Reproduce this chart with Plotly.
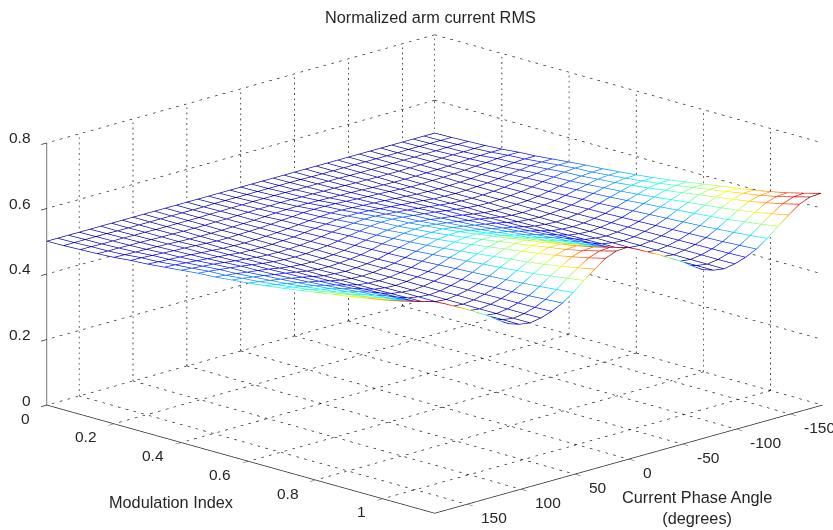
import plotly.graph_objects as go

# Axis samples and ticks
phi_half = [-180,-170,-160,-150,-140,-130,-120,-110,-100,-90,-80,-70,-60,-50,-40,-30,-20,-10,0]
phi_second = [10,20,30,40,50,60,70,80,90,100,110,120,130,140,150,160,170,180]
modulation = [0,0.05,0.10,0.15,0.20,0.25,0.30,0.35,0.40,0.45,0.50,0.55,0.60,0.65,0.70,0.75,0.80,0.85,0.90,0.95,1.00,1.05,1.10,1.15]
phi_ticks = [-150,-100,-50,0,50,100,150]
m_ticks = [0,0.2,0.4,0.6,0.8,1]
z_ticks = [0,0.2,0.4,0.6,0.8]
phi_range = [-180,180]
m_range = [0,1.1547]
z_range = [0,0.8]

# Surface heights (thousandths), one row per modulation value, phi from -180 to 0
# (the picture repeats the same profile from 0 to 180)
z_milli = [
[500]*19,
[501,501,501,501,501,500,500,500,500,500,500,500,500,500,501,501,501,501,501],
[503,503,503,502,502,501,501,500,500,500,500,500,501,501,502,502,502,503,503],
[505,505,504,504,503,502,501,501,500,500,500,501,501,502,503,503,504,504,505],
[508,508,507,506,504,502,501,500,499,499,499,500,501,503,504,505,506,507,508],
[513,513,512,509,507,504,502,501,500,499,499,501,503,505,506,508,510,512,513],
[516,516,514,511,508,505,502,500,499,498,499,500,503,505,508,510,512,514,516],
[521,521,519,515,511,507,503,501,499,498,499,500,504,507,510,513,516,519,521],
[526,526,523,519,514,509,504,501,499,498,499,501,505,509,513,517,520,523,526],
[531,531,528,522,517,510,505,502,499,498,499,502,506,511,516,520,524,528,531],
[534,533,530,524,518,511,505,501,499,497,498,501,506,512,517,521,526,530,534],
[539,538,535,528,521,513,506,502,499,497,498,502,508,514,519,525,530,535,539],
[544,543,539,532,524,515,507,502,499,497,499,502,509,516,522,528,534,539,544],
[550,549,545,536,527,517,509,503,499,497,499,503,510,518,525,532,538,545,550],
[557,556,551,541,531,520,510,504,499,497,499,503,512,521,529,537,544,551,557],
[565,564,558,547,536,523,512,505,500,497,499,504,514,525,533,542,550,558,565],
[573,572,565,553,540,526,514,506,500,497,500,505,516,528,538,547,556,565,573],
[581,580,573,559,545,529,516,507,500,497,500,506,518,531,542,553,562,573,581],
[589,588,580,565,549,532,518,508,501,497,500,507,520,534,546,558,568,580,589],
[598,597,588,571,554,535,520,509,501,497,500,508,522,538,551,564,575,588,598],
[607,605,596,578,559,539,522,510,502,497,501,509,525,542,556,570,582,596,607],
[618,616,606,586,566,543,524,511,502,497,501,510,527,546,562,577,591,606,618],
[631,629,617,596,573,548,527,512,502,497,502,511,531,551,569,586,601,617,631],
[645,643,630,606,581,553,530,514,503,497,502,513,534,557,576,595,612,630,645],
]

TITLE = "Normalized arm current RMS"
M_TITLE = "Modulation Index"
PHI_TITLE = "Current Phase Angle<br>(degrees)"
FONT = "Liberation Sans, Arial, sans-serif"
INK = "#262626"
JET = [[0,"rgb(0,0,143)"],[0.125,"rgb(0,0,255)"],[0.375,"rgb(0,255,255)"],
       [0.625,"rgb(255,255,0)"],[0.875,"rgb(255,0,0)"],[1,"rgb(128,0,0)"]]

phi = phi_half + phi_second
z = [[v/1000 for v in row] + [v/1000 for v in row[1:]] for row in z_milli]

fig = go.Figure()

def line3(xs, ys, zs, dash="dash", color="#111111", width=1.3):
    fig.add_trace(go.Scatter3d(x=xs, y=ys, z=zs, mode="lines", hoverinfo="skip", showlegend=False,
                               line=dict(color=color, width=width, dash=dash)))

# Dashed grid on the floor and the two back walls
for t in phi_ticks:
    line3([t,t], m_range, [0,0])
    line3([t,t], [0,0], z_range)
for t in m_ticks:
    line3(phi_range, [t,t], [0,0])
    line3([-180,-180], [t,t], z_range)
for t in z_ticks:
    line3(phi_range, [0,0], [t,t])
    line3([-180,-180], m_range, [t,t])

# White faces hide what lies behind the mesh
fig.add_trace(go.Surface(x=phi, y=modulation, z=[[v-0.0015 for v in r] for r in z],
                         colorscale=[[0,"white"],[1,"white"]], showscale=False, hoverinfo="skip",
                         lighting=dict(ambient=1,diffuse=0,specular=0,roughness=1,fresnel=0)))

# Mesh lines coloured by height
xs, ys, zs = [], [], []
for j, m in enumerate(modulation):
    xs += phi + [None]; ys += [m]*len(phi) + [None]; zs += z[j] + [None]
for i, p in enumerate(phi):
    xs += [p]*len(modulation) + [None]; ys += modulation + [None]; zs += [r[i] for r in z] + [None]
col = [0.5 if v is None else v for v in zs]
fig.add_trace(go.Scatter3d(x=xs, y=ys, z=zs, mode="lines", hoverinfo="skip", showlegend=False, connectgaps=False,
                           line=dict(color=col, colorscale=JET, cmin=0.497, cmax=0.645, width=1.4)))

def axis(vals, rng):
    return dict(range=rng, tickmode="array", tickvals=vals, showticklabels=False,
                ticks="outside", ticklen=8, tickcolor="#222222", tickwidth=1.5,
                showgrid=False, zeroline=False, showline=True, linecolor="#222222", linewidth=1.5,
                showbackground=False, showspikes=False, title=dict(text=""))

tick_font = dict(family=FONT, size=15.5, color=INK)
scene_notes = []
for t in phi_ticks:
    scene_notes.append(dict(x=t, y=m_range[1], z=0, text=f"{t:g}", showarrow=False, font=tick_font,
                            xanchor="left", xshift=12, yshift=-13))
for t in m_ticks:
    scene_notes.append(dict(x=phi_range[1], y=t, z=0, text=f"{t:g}", showarrow=False, font=tick_font,
                            xanchor="right", xshift=-15, yshift=-13))
for t in z_ticks:
    scene_notes.append(dict(x=phi_range[1], y=0, z=t, text=f"{t:g}", showarrow=False, font=tick_font,
                            xanchor="right", xshift=-14, yshift=5))

shift = [0.0422, -0.055, 0.0327]
title_font = dict(family=FONT, size=16.3, color=INK)
def note(text, px, py):
    return dict(text=text, x=px/833, y=1-py/530, xref="paper", yref="paper", showarrow=False,
                font=title_font, xanchor="center", yanchor="middle")

fig.update_layout(
    width=833, height=530, margin=dict(l=0,r=0,t=0,b=0), paper_bgcolor="white", showlegend=False,
    scene=dict(domain=dict(x=[0,1],y=[0,1]),
               xaxis=axis(phi_ticks, phi_range), yaxis=axis(m_ticks, m_range), zaxis=axis(z_ticks, z_range),
               aspectmode="manual", aspectratio=dict(x=2.07,y=2.07,z=1.03),
               annotations=scene_notes,
               camera=dict(projection=dict(type="orthographic"), up=dict(x=0,y=0,z=1),
                           center=dict(x=shift[0],y=shift[1],z=shift[2]),
                           eye=dict(x=1.3+shift[0],y=1.3+shift[1],z=0.534+shift[2]))),
    annotations=[note(TITLE, 431, 17), note(M_TITLE, 171, 502), note(PHI_TITLE, 696.5, 507)],
)
fig.write_html("out.html", config=dict(displayModeBar=False),
               post_script="document.body.style.margin='0';document.body.style.overflow='hidden';")
